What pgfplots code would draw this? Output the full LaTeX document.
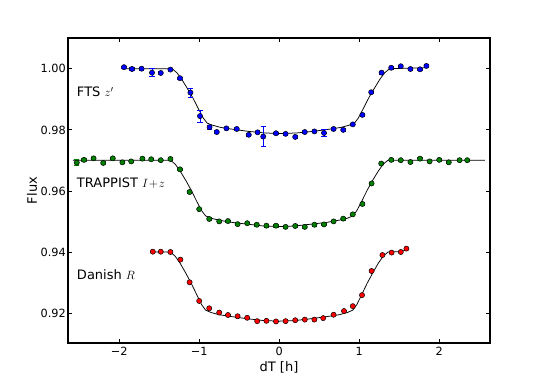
\documentclass[border=0pt]{standalone}
\usepackage{pgfplots}
\pgfplotsset{compat=1.18}
\usepackage{fontspec}
\setmainfont{DejaVu Sans}
\definecolor{mplblue}{rgb}{0,0,1}
\definecolor{mplgreen}{rgb}{0,0.5,0}
\definecolor{mplred}{rgb}{1,0,0}
\begin{document}
\begin{tikzpicture}
\useasboundingbox (-68pt,-39pt) rectangle (477pt,343pt);
\begin{axis}[
  at={(0pt,0pt)}, anchor=south west,
  scale only axis, width=422pt, height=305pt,
  xmin=-2.64, xmax=2.635, ymin=0.91036, ymax=1.01003,
  xtick={-2,-1,0,1,2}, xticklabels={−2,−1,0,1,2},
  ytick={0.92,0.94,0.96,0.98,1.00}, yticklabels={0.92,0.94,0.96,0.98,1.00},
  tick align=inside, major tick length=4.3pt,
  tick style={black, line width=0.9pt},
  axis line style={black, line width=1.1pt},
  ticklabel style={font=\fontsize{11.3}{13}\selectfont},
  xticklabel style={inner sep=0pt, yshift=-4pt},
  yticklabel style={inner sep=0pt, xshift=-2pt},
  xlabel={dT [h]}, ylabel={Flux},
  every axis x label/.style={at={(axis description cs:0.5,-0.0797)}, anchor=center, font=\fontsize{13}{15}\selectfont},
  every axis y label/.style={at={(axis description cs:-0.085,0.5)}, rotate=90, anchor=center, font=\fontsize{13}{15}\selectfont},
  clip=false,
]
% models
\addplot[black, line width=0.75pt, no marks] coordinates {
(-1.95,1.0000) (-1.34,1.0000) (-1.28,0.9987) (-1.22,0.9966) (-1.15,0.9936) (-1.08,0.9905) (-1.01,0.9869) (-0.95,0.9839) (-0.90,0.9822) (-0.83,0.9815) (-0.73,0.9808) (-0.58,0.9802) (-0.38,0.9795) (-0.18,0.9790) (0.02,0.9788) (0.22,0.9790) (0.42,0.9795) (0.62,0.9802) (0.77,0.9808) (0.87,0.9815) (0.94,0.9822) (0.99,0.9839) (1.05,0.9869) (1.12,0.9905) (1.19,0.9936) (1.26,0.9966) (1.32,0.9987) (1.38,1.0000) (1.85,1.0003)
};
\addplot[black, line width=0.75pt, no marks] coordinates {
(-2.58,0.9701) (-1.36,0.9701) (-1.30,0.9688) (-1.24,0.9666) (-1.17,0.9636) (-1.10,0.9603) (-1.03,0.9566) (-0.97,0.9536) (-0.92,0.9519) (-0.85,0.9511) (-0.75,0.9505) (-0.60,0.9498) (-0.40,0.9492) (-0.20,0.9486) (0,0.9484) (0.20,0.9486) (0.40,0.9492) (0.60,0.9498) (0.75,0.9505) (0.85,0.9511) (0.92,0.9519) (0.97,0.9536) (1.03,0.9566) (1.10,0.9603) (1.17,0.9636) (1.24,0.9666) (1.30,0.9688) (1.36,0.9701) (2.57,0.9701)
};
\addplot[black, line width=0.75pt, no marks] coordinates {
(-1.59,0.9401) (-1.36,0.9401) (-1.30,0.9387) (-1.24,0.9365) (-1.17,0.9333) (-1.10,0.9299) (-1.03,0.9261) (-0.97,0.9229) (-0.92,0.9211) (-0.85,0.9203) (-0.75,0.9196) (-0.60,0.9190) (-0.40,0.9183) (-0.20,0.9177) (0,0.9175) (0.20,0.9177) (0.40,0.9183) (0.60,0.9190) (0.75,0.9196) (0.85,0.9203) (0.92,0.9211) (0.97,0.9229) (1.03,0.9261) (1.10,0.9299) (1.17,0.9333) (1.24,0.9365) (1.30,0.9387) (1.36,0.9401) (1.52,0.9402) (1.59,0.9409)
};
% FTS data
\addplot[only marks, mark=*, mark size=2.6pt, mark options={draw=black, fill=mplblue, line width=0.5pt},
  error bars/.cd, y dir=both, y explicit,
  error bar style={mplblue, line width=0.7pt},
  error mark options={rotate=90, mplblue, mark size=2.6pt, line width=0.7pt}]
table[x=x, y=y, y error=e] {
x y e
-1.94 1.0005 0.0004
-1.84 0.9999 0.0004
-1.72 1.0000 0.0004
-1.59 0.9987 0.0013
-1.48 0.9986 0.0004
-1.36 0.9997 0.0004
-1.24 0.9969 0.0004
-1.11 0.9922 0.0015
-0.99 0.9845 0.0020
-0.87 0.9809 0.0006
-0.78 0.9793 0.0004
-0.66 0.9805 0.0004
-0.53 0.9803 0.0004
-0.38 0.9784 0.0004
-0.27 0.9792 0.0004
-0.20 0.9778 0.0032
-0.04 0.9789 0.0004
0.08 0.9787 0.0004
0.20 0.9777 0.0004
0.32 0.9793 0.0004
0.44 0.9795 0.0004
0.56 0.9790 0.0012
0.68 0.9803 0.0004
0.80 0.9800 0.0004
0.92 0.9818 0.0004
1.04 0.9849 0.0004
1.15 0.9923 0.0004
1.28 0.9987 0.0004
1.40 1.0003 0.0004
1.52 1.0008 0.0004
1.64 0.9999 0.0004
1.76 0.9998 0.0004
1.84 1.0009 0.0004
};
% TRAPPIST data
\addplot[only marks, mark=*, mark size=2.6pt, mark options={draw=black, fill=mplgreen, line width=0.5pt},
  error bars/.cd, y dir=both, y explicit,
  error bar style={mplgreen, line width=0.7pt},
  error mark options={rotate=90, mplgreen, mark size=2.6pt, line width=0.7pt}]
table[x=x, y=y, y error=e] {
x y e
-2.53 0.9693 0.0010
-2.44 0.9702 0.0004
-2.32 0.9707 0.0004
-2.20 0.9692 0.0004
-2.08 0.9707 0.0004
-1.96 0.9694 0.0004
-1.85 0.9697 0.0004
-1.71 0.9706 0.0004
-1.60 0.9704 0.0004
-1.48 0.9701 0.0004
-1.36 0.9705 0.0004
-1.24 0.9671 0.0004
-1.12 0.9597 0.0004
-1.00 0.9541 0.0004
-0.875 0.9509 0.0004
-0.75 0.9501 0.0004
-0.64 0.9502 0.0004
-0.52 0.9492 0.0004
-0.40 0.9495 0.0004
-0.28 0.9490 0.0004
-0.16 0.9487 0.0004
-0.04 0.9487 0.0004
0.08 0.9483 0.0004
0.20 0.9486 0.0004
0.32 0.9483 0.0004
0.44 0.9490 0.0004
0.56 0.9491 0.0004
0.68 0.9501 0.0004
0.80 0.9510 0.0004
0.92 0.9524 0.0004
1.04 0.9558 0.0004
1.155 0.9625 0.0004
1.275 0.9690 0.0004
1.40 0.9702 0.0004
1.52 0.9701 0.0004
1.64 0.9695 0.0004
1.76 0.9706 0.0004
1.88 0.9697 0.0004
2.00 0.9702 0.0004
2.12 0.9694 0.0004
2.255 0.9701 0.0004
2.35 0.9701 0.0004
};
% Danish data
\addplot[only marks, mark=*, mark size=2.6pt, mark options={draw=black, fill=mplred, line width=0.5pt}]
table[x=x, y=y] {
x y
-1.58 0.9402
-1.48 0.9402
-1.36 0.9401
-1.235 0.9376
-1.12 0.9302
-1.00 0.9241
-0.875 0.9217
-0.75 0.9203
-0.64 0.9195
-0.52 0.9191
-0.40 0.9186
-0.275 0.9175
-0.16 0.9176
-0.04 0.9174
0.08 0.9175
0.20 0.9178
0.32 0.9180
0.44 0.9180
0.55 0.9185
0.68 0.9196
0.81 0.9208
0.92 0.9224
1.035 0.9260
1.155 0.9339
1.29 0.9391
1.405 0.9399
1.52 0.9401
1.59 0.9412
};
\node[anchor=west, inner sep=0pt, font=\fontsize{13}{15}\selectfont] at (axis cs:-2.53,0.9925) {FTS $z'$};
\node[anchor=west, inner sep=0pt, font=\fontsize{13}{15}\selectfont] at (axis cs:-2.53,0.9627) {TRAPPIST $I\!+\!z$};
\node[anchor=west, inner sep=0pt, font=\fontsize{13}{15}\selectfont] at (axis cs:-2.53,0.9328) {Danish $R$};
\end{axis}
\end{tikzpicture}
\end{document}
